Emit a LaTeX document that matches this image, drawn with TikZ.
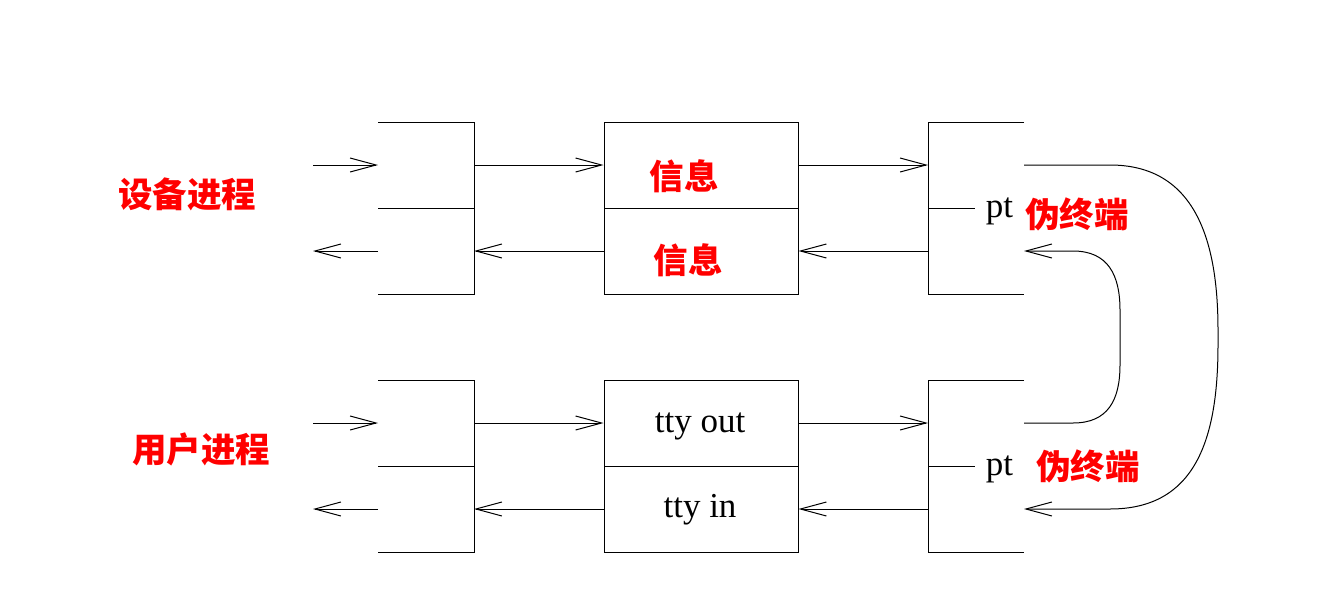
\documentclass[tikz,border=0pt]{standalone}
\usepackage{fontspec}
\setmainfont{Liberation Serif}
\newfontfamily\cjk{Noto Sans CJK SC}
\usetikzlibrary{arrows.meta}
\begin{document}
\begin{tikzpicture}[x=1pt,y=-1pt,
  line/.style={line width=1pt},
  arr/.style={line width=1pt,-{Straight Barb[length=26pt,width=14pt,line width=1pt]}},
  box/.style={draw,line width=1pt,minimum width=194pt,minimum height=86pt,inner sep=0pt},
  en/.style={font=\fontsize{35}{35}\selectfont,inner sep=0pt,anchor=base},
  zh/.style={font=\cjk\bfseries\fontsize{34.5}{34.5}\selectfont,text=red,inner sep=0pt}]
\useasboundingbox (0,0) rectangle (1342,614);
\foreach \o/\n in {0/a,258/b}{
  % left bracket
  \coordinate (\n lt) at (378,122+\o);
  \coordinate (\n lm) at (378,208+\o);
  \coordinate (\n lb) at (378,294+\o);
  \coordinate (\n ltr) at (474,122+\o);
  \coordinate (\n lmr) at (474,208+\o);
  \coordinate (\n lbr) at (474,294+\o);
  \draw[line] (\n lt) -- (\n ltr) -- (\n lbr) -- (\n lb);
  \draw[line] (\n lm) -- (\n lmr);
  \coordinate (\n inA) at (313,165+\o);
  \coordinate (\n inB) at (378,165+\o);
  \coordinate (\n outA) at (378,251+\o);
  \coordinate (\n outB) at (313,251+\o);
  \draw[arr] (\n inA) -- (\n inB);
  \draw[arr] (\n outA) -- (\n outB);
  % middle boxes
  \node[box] (\n up) at (701,165+\o) {};
  \node[box] (\n dn) at (701,251+\o) {};
  \coordinate (\n l1) at (474,165+\o);
  \coordinate (\n l2) at (474,251+\o);
  \coordinate (\n r1) at (928,165+\o);
  \coordinate (\n r2) at (928,251+\o);
  \draw[arr] (\n l1) -- (\n up.west);
  \draw[arr] (\n dn.west) -- (\n l2);
  \draw[arr] (\n up.east) -- (\n r1);
  \draw[arr] (\n r2) -- (\n dn.east);
  % right bracket
  \coordinate (\n rt) at (928,122+\o);
  \coordinate (\n rb) at (928,294+\o);
  \coordinate (\n rm) at (928,208+\o);
  \coordinate (\n rtr) at (1024,122+\o);
  \coordinate (\n rbr) at (1024,294+\o);
  \coordinate (\n rmr) at (975,208+\o);
  \draw[line] (\n rtr) -- (\n rt) -- (\n rb) -- (\n rbr);
  \draw[line] (\n rm) -- (\n rmr);
  \coordinate (\n p1) at (1024,165+\o);
  \coordinate (\n p2) at (1024,251+\o);
}
% loop-back curves
\draw[arr] (ap1) -- (1110,165) .. controls (1195,165) and (1218,240) .. (1218,330)
  -- (1218,345) .. controls (1218,440) and (1195,509) .. (1110,509) -- (bp2);
\draw[arr] (bp1) -- (1073,423) .. controls (1108,423) and (1120,400) .. (1120,365)
  -- (1120,310) .. controls (1120,275) and (1108,251) .. (1073,251) -- (ap2);
% labels
\node[zh] (dev) at (187,194) {设备进程};
\node[zh] (usr) at (201,449) {用户进程};
\node[zh] (m1) at (684,176) {信息};
\node[zh] (m2) at (688,260) {信息};
\node[zh] (t1) at (1077,214) {伪终端};
\node[zh] (t2) at (1088,466) {伪终端};
\node[en] (pt1) at (999.5,217) {pt};
\node[en] (pt2) at (999.5,475) {pt};
\node[en] (o1) at (700,432) {tty out};
\node[en] (o2) at (700,517) {tty in};
\end{tikzpicture}
\end{document}
